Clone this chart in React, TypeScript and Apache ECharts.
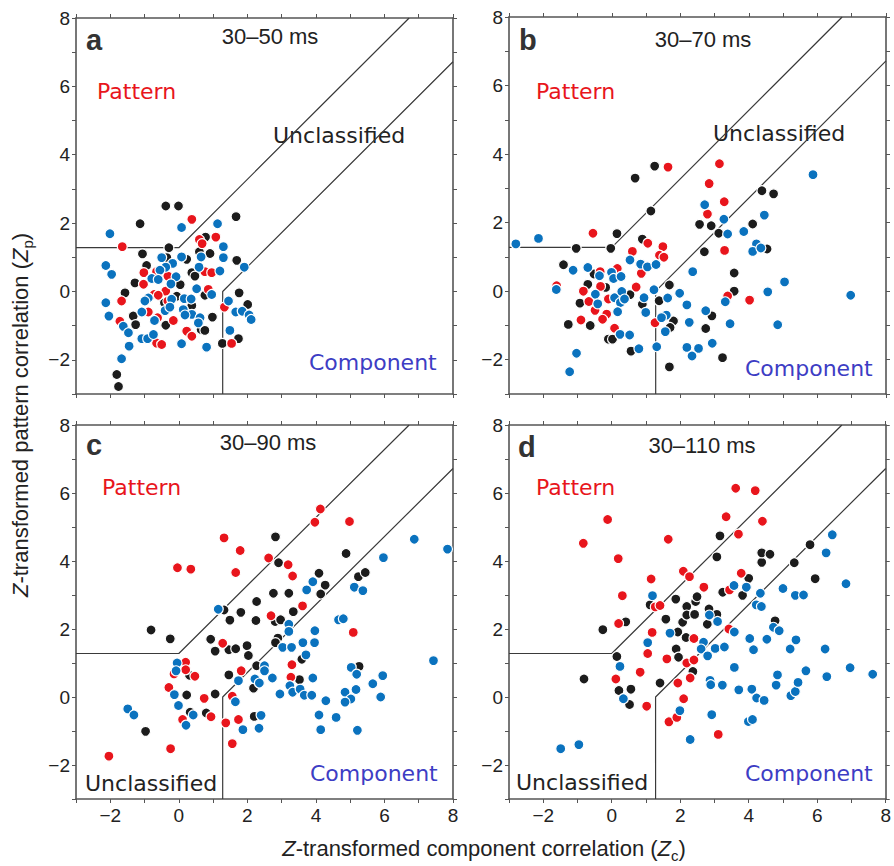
import React, { useEffect, useRef } from 'react';
import * as echarts from 'echarts';

// ---- constants / ticks ----
const Z_CRIT = 1.28;
const AXIS_MIN = -3;
const AXIS_MAX = 8;
const LABELED_TICKS = [-2, 0, 2, 4, 6, 8];

const panelLetters = ['a', 'b', 'c', 'd'];
const panelTitles = ['30–50 ms', '30–70 ms', '30–90 ms', '30–110 ms'];

// ---- panel a (30–50 ms) ----
const aBlack = [
  [-0.38, 2.5], [-0.01, 2.5], [1.67, 2.19], [-1.13, 1.98], [0.78, 1.59], [-0.29, 1.28],
  [-1.06, 1.1], [0.91, 1.11], [0.6, 1.16], [-0.35, 0.99], [0.23, 0.94], [1.69, 0.91],
  [-0.94, 0.76], [0.38, 0.55], [0.47, 0.45], [-1.28, 0.25], [0.04, 0.2], [-1.57, -0.04],
  [1.76, -0.04], [-0.06, -0.14], [0.76, -0.11], [-0.42, -0.33], [0.38, -0.41], [2.01, -0.38],
  [-1.33, -0.72], [0.98, -0.75], [-1.26, -0.97], [-0.38, -0.99], [0.65, -1.11], [0.76, -1.14],
  [1.74, -1.38], [1.27, -1.52], [-1.81, -2.43], [-1.76, -2.78],
];
const aRed = [
  [0.38, 2.11], [1.08, 1.59], [0.6, 1.52], [0.68, 1.4], [-1.65, 1.31], [-1.02, 0.55],
  [-0.65, 0.58], [0.76, 0.58], [0.96, 0.55], [-0.32, 0.45], [-1.03, 0.21], [0.86, 0.06],
  [-0.38, 0.01], [-0.72, -0.09], [-0.6, -0.11], [-0.32, -0.28], [-1.67, -0.28], [1.33, -0.46],
  [-0.89, -0.6], [-0.62, -0.77], [-0.16, -0.85], [-1.72, -0.87], [0.23, -1.16], [0.38, -1.31],
  [-0.65, -1.51], [-0.5, -1.55], [1.54, -1.52],
];
const aBlue = [
  [1.13, 1.98], [0.08, 1.87], [-2.01, 1.69], [1.3, 1.31], [-0.5, 0.99], [0.08, 1.01],
  [0.65, 1.01], [1.3, 0.99], [-2.13, 0.76], [-0.18, 0.82], [-0.38, 0.71], [0.59, 0.71],
  [1.91, 0.71], [-0.55, 0.62], [1.2, 0.6], [-1.96, 0.5], [-0.08, 0.43], [-0.79, 0.38],
  [-0.6, 0.35], [-0.23, 0.22], [0.52, 0.08], [-0.89, -0.19], [-0.21, -0.23], [0.16, -0.21],
  [0.36, -0.22], [0.96, -0.09], [-2.13, -0.33], [-0.99, -0.28], [1.45, -0.28], [-0.4, -0.56],
  [-0.26, -0.46], [0.13, -0.53], [-1.08, -0.6], [0.38, -0.67], [0.18, -0.69], [1.66, -0.6],
  [1.85, -0.58], [-2.04, -0.72], [-0.71, -0.85], [0.62, -0.77], [2.05, -0.69], [2.11, -0.82],
  [-1.62, -1.02], [0.57, -0.92], [-1.47, -1.21], [1.49, -1.14], [-1.08, -1.38], [-0.91, -1.38],
  [-0.74, -1.26], [0.08, -1.53], [0.81, -1.63], [-1.45, -1.6], [-1.67, -1.97],
];

// ---- panel b (30–70 ms) ----
const bBlack = [
  [1.25, 3.65], [0.68, 3.3], [1.14, 2.34], [0.15, 1.68], [0.89, 1.52], [-0.03, 1.25],
  [-1.04, 1.25], [-1.41, 0.77], [-0.52, 0.5], [-0.7, 0.2], [-0.18, 0.11], [-0.93, -0.35],
  [0.53, -0.1], [0.89, -0.38], [-1.27, -0.97], [-0.63, -1.0], [-0.1, -1.4], [0.02, -1.4],
  [0.56, -1.75], [1.38, -0.28], [1.68, 0.18], [1.8, -0.87], [1.68, -2.21], [2.56, 1.95],
  [2.9, 1.91], [3.12, 1.69], [2.7, 1.15], [3.57, 0.53], [3.57, 0.0], [4.11, 1.96],
  [4.38, 2.93], [4.72, 2.84], [4.53, 1.23], [2.92, -0.72], [2.74, -1.09], [3.23, -1.94],
  [1.7, -1.06],
];
const bRed = [
  [1.64, 3.62], [3.14, 3.72], [2.84, 3.14], [3.28, 2.61], [2.79, 2.25], [3.29, 1.19],
  [-0.55, 1.69], [1.05, 1.4], [1.49, 1.3], [0.6, 1.16], [1.39, 1.05], [1.52, 0.99],
  [0.86, 0.52], [-0.34, 0.57], [0.16, 0.66], [0.71, 0.12], [-0.33, 0.14], [-0.83, 0.0],
  [-0.67, -0.3], [-0.1, -0.23], [-0.49, -0.56], [-0.15, -0.67], [-0.9, -0.84], [-0.27, -0.82],
  [0.08, -1.08], [1.26, -0.92], [3.38, -0.14], [4.02, -0.26], [-1.61, 0.16],
];
const bBlue = [
  [-2.8, 1.38], [-2.14, 1.54], [-1.13, 0.61], [-0.7, 0.69], [-0.36, 0.45], [-0.01, 0.55],
  [0.05, 0.37], [0.27, 0.43], [-1.62, 0.05], [-0.48, -0.09], [-0.41, -0.37], [0.08, -0.19],
  [0.29, -0.01], [0.25, -0.33], [0.37, -0.23], [0.17, -0.6], [0.53, 0.91], [0.84, 0.79],
  [1.04, 0.71], [1.29, 0.78], [1.23, 0.04], [0.94, -0.19], [0.99, -0.62], [1.63, -0.2],
  [1.98, -0.06], [2.19, -0.4], [1.59, -0.7], [1.45, -0.77], [1.56, -1.18], [0.24, -1.26],
  [0.52, -1.28], [0.79, -1.68], [1.31, -1.62], [2.19, -1.64], [2.53, -1.67], [2.34, -1.89],
  [2.93, -1.52], [2.26, -0.91], [2.74, -0.57], [3.31, -0.31], [3.45, -0.95], [2.36, 0.57],
  [2.71, 2.52], [3.27, 2.1], [3.38, 1.67], [3.85, 1.74], [4.22, 1.38], [4.11, 1.16],
  [4.35, 1.26], [4.45, 2.22], [4.55, -0.02], [5.04, 0.27], [4.84, -0.98], [5.87, 3.4],
  [6.97, -0.12], [-1.03, -1.81], [-1.23, -2.35],
];

// ---- panel c (30–90 ms) ----
const cBlack = [
  [-0.81, 1.97], [-0.25, 1.71], [-0.97, -1.01], [0.23, 0.06], [0.31, 0.64], [0.33, -0.45],
  [0.8, -0.47], [1.06, 0.09], [1.46, 0.65], [0.93, 1.7], [1.06, 1.35], [1.46, 1.39],
  [1.66, 1.42], [1.99, 1.51], [2.03, 1.22], [1.32, 2.56], [1.49, 2.26], [1.81, 2.49],
  [2.25, 2.25], [2.27, 2.81], [2.76, 3.05], [2.82, 4.71], [2.91, 3.95], [3.21, 3.05],
  [2.81, 2.22], [2.97, 2.27], [2.89, 1.73], [2.82, 1.6], [3.34, 2.51], [3.59, 1.11],
  [3.52, 0.51], [2.27, 0.92], [2.18, 0.26], [2.2, -0.57], [4.09, 3.64], [4.27, 3.29],
  [4.14, 3.03], [4.88, 4.22], [5.24, 3.54], [5.44, 3.66], [5.26, 0.9],
];
const cRed = [
  [-2.04, -1.74], [-0.24, -1.52], [-0.04, 3.8], [0.35, 3.76], [1.32, 4.68], [1.79, 4.31],
  [1.66, 3.66], [2.62, 4.09], [3.19, 3.89], [3.32, 3.56], [3.97, 5.14], [4.13, 5.53],
  [4.98, 5.16], [3.61, 2.68], [2.69, 2.39], [1.28, 1.58], [5.09, 1.9], [1.82, 0.77],
  [3.3, 0.95], [3.27, 0.58], [0.2, 1.02], [0.2, 0.8], [-0.14, 0.68], [0.47, 0.61],
  [-0.29, 0.28], [0.74, -0.04], [0.94, -0.58], [0.11, -0.66], [1.37, -0.76], [1.74, -0.66],
  [1.56, -1.37], [1.56, 0.02],
];
const cBlue = [
  [-1.49, -0.35], [-1.31, -0.53], [-0.05, 1.0], [-0.08, 0.77], [-0.13, 0.07], [-0.01, -0.25],
  [0.42, -0.53], [0.21, -0.83], [1.15, 2.58], [1.65, -0.14], [1.74, 0.48], [1.87, -0.96],
  [2.22, 0.53], [2.35, 0.41], [2.5, 0.92], [2.5, 0.77], [2.4, -0.54], [2.34, -0.92],
  [2.73, 0.56], [2.95, 0.09], [3.03, 1.46], [3.21, 2.14], [3.21, 1.93], [3.29, 1.46],
  [3.24, 0.33], [3.32, 0.14], [3.54, 0.23], [3.62, 1.6], [3.71, 1.24], [3.66, 0.05],
  [3.73, 3.15], [3.91, 3.39], [3.97, 1.95], [3.96, 1.6], [3.91, 0.56], [3.88, 0.05],
  [4.09, -0.53], [4.14, -0.96], [4.29, -0.11], [4.59, -0.6], [4.66, 2.27], [4.8, 2.3],
  [5.03, 0.87], [5.19, 0.67], [5.17, 0.22], [4.85, 0.14], [5.02, -0.06], [4.85, -0.15],
  [5.21, -0.98], [5.12, 3.23], [5.37, 3.13], [5.66, 0.39], [5.97, 4.1], [5.95, 0.63],
  [5.89, 0.0], [6.87, 4.64], [7.43, 1.07], [7.84, 4.35],
];

// ---- panel d (30–110 ms) ----
const dBlack = [
  [-0.81, 0.53], [-0.26, 1.98], [0.15, 1.19], [0.41, 2.21], [0.21, 0.19], [0.56, 0.23],
  [0.52, -0.22], [1.12, 2.71], [1.41, 0.41], [1.58, 2.29], [1.87, 2.88], [1.93, 1.91],
  [1.88, 1.41], [1.95, 1.17], [2.07, 2.2], [2.17, 1.75], [2.19, 2.66], [2.19, 2.41],
  [2.42, 2.43], [2.45, 2.81], [2.49, 2.95], [2.37, 0.75], [2.79, 2.14], [2.84, 2.59],
  [3.07, 2.43], [3.07, 4.12], [3.16, 4.74], [3.24, 3.08], [3.82, 2.99], [4.0, 3.49],
  [4.38, 3.96], [4.38, 4.24], [4.62, 4.2], [4.77, 2.24], [5.33, 3.95], [5.79, 4.48],
  [5.94, 3.48],
];
const dRed = [
  [-0.83, 4.52], [-0.12, 5.22], [0.19, 4.07], [0.31, 2.98], [0.2, 2.16], [0.12, 0.53],
  [0.83, 0.73], [1.02, -0.27], [1.05, 1.28], [1.18, 1.9], [1.15, 3.47], [1.27, 2.65],
  [1.41, 2.69], [1.61, 1.12], [1.65, 4.64], [1.67, -0.73], [1.9, -0.6], [1.93, 0.41],
  [2.1, -0.05], [2.19, 1.0], [2.29, 0.56], [2.4, 1.72], [2.4, 1.09], [2.09, 3.7],
  [2.27, 3.54], [2.69, 3.23], [3.11, -1.1], [3.34, 5.3], [3.62, 6.14], [4.19, 6.07],
  [3.7, 4.79], [4.4, 5.17], [3.78, 3.64], [3.44, 3.15], [3.42, 2.0],
];
const dBlue = [
  [-1.49, -1.52], [-0.96, -1.4], [0.24, 0.9], [0.34, -0.05], [1.19, 2.98], [1.05, 1.6],
  [1.7, 1.88], [1.99, -0.4], [2.29, -1.25], [2.68, 1.61], [2.61, 1.41], [2.8, 1.21],
  [2.85, 2.41], [3.09, 2.22], [3.02, 1.43], [3.29, 1.47], [2.87, 0.49], [2.89, 0.36],
  [2.92, -0.52], [3.23, 0.35], [3.57, 3.28], [3.58, 1.91], [3.58, 0.87], [3.71, 0.21],
  [3.93, 3.23], [4.03, 1.72], [4.14, 1.39], [4.09, 0.23], [4.23, -0.03], [3.99, -0.72],
  [4.11, -0.66], [4.22, 2.71], [4.37, 2.66], [4.34, 3.05], [4.45, -0.1], [4.53, 1.7],
  [4.72, 2.05], [4.89, 1.95], [4.8, 0.35], [4.84, 0.65], [5.0, 3.19], [5.21, 1.41],
  [5.23, 0.04], [5.36, 0.16], [5.44, 0.43], [5.36, 2.99], [5.6, 3.0], [5.38, 1.68],
  [5.67, 0.77], [6.23, 1.41], [6.28, 0.6], [6.26, 4.24], [6.44, 4.77], [6.84, 3.33],
  [6.96, 0.86], [7.62, 0.67],
];

const panelData = [
  { black: aBlack, red: aRed, blue: aBlue },
  { black: bBlack, red: bRed, blue: bBlue },
  { black: cBlack, red: cRed, blue: cBlue },
  { black: dBlack, red: dRed, blue: dBlue },
];

// classification boundaries (derived from the criterion value)
const patternBoundary = [[AXIS_MIN, Z_CRIT], [0, Z_CRIT], [AXIS_MAX - Z_CRIT, AXIS_MAX]];
const componentBoundary = [[Z_CRIT, AXIS_MIN], [Z_CRIT, 0], [AXIS_MAX, AXIS_MAX - Z_CRIT]];

// ---- layout / style ----
const GRIDS = [
  { left: 76, top: 18, width: 377, height: 376 },
  { left: 509, top: 17, width: 377, height: 377 },
  { left: 76, top: 425, width: 377, height: 374 },
  { left: 509, top: 425, width: 377, height: 374 },
];
const COLORS = { black: '#1c1c1c', red: '#e8151c', blue: '#0a72be' };
const AXIS_COLOR = '#555';
const SANS = '"Liberation Sans", Arial, sans-serif';
const WIDE = '"DejaVu Sans", sans-serif';

const fmt = (v: number) =>
  LABELED_TICKS.indexOf(v) >= 0 ? (v < 0 ? '\u2212' + Math.abs(v) : String(v)) : '';

function axis(kind: 'x' | 'y', grid: number, position: string, showLabel: boolean) {
  return {
    type: 'value',
    gridIndex: grid,
    position,
    min: AXIS_MIN,
    max: AXIS_MAX,
    interval: 1,
    axisLine: { show: true, onZero: false, lineStyle: { color: AXIS_COLOR, width: 1.6 } },
    axisTick: { show: true, inside: false, length: 4, lineStyle: { color: AXIS_COLOR, width: 1 } },
    axisLabel: {
      show: showLabel,
      formatter: fmt,
      color: '#222',
      fontSize: 19,
      fontFamily: SANS,
      margin: kind === 'x' ? 7 : 6,
      showMinLabel: true,
      showMaxLabel: true,
    },
    splitLine: { show: false },
  };
}

const textLabels = {
  pattern: [[97, 91], [536, 91], [102, 487], [536, 487]],
  unclassified: [[273, 135], [713, 133], [85, 783], [516, 782]],
  component: [[309, 362], [745, 368], [310, 773], [745, 773]],
  letter: [[86, 40], [519, 40], [86, 445], [518, 447]],
  title: [[270, 36], [703, 39], [268, 442], [702, 445]],
};

export default function App() {
  const ref = useRef<HTMLDivElement>(null);

  useEffect(() => {
    if (!ref.current) return;
    const chart = echarts.init(ref.current, null, { renderer: 'svg' });

    const xAxis: any[] = [];
    const yAxis: any[] = [];
    const series: any[] = [];
    GRIDS.forEach((_, i) => {
      xAxis.push(axis('x', i, 'bottom', i >= 2));
      xAxis.push(axis('x', i, 'top', false));
      yAxis.push(axis('y', i, 'left', true));
      yAxis.push(axis('y', i, 'right', false));
      const xi = i * 2;
      [patternBoundary, componentBoundary].forEach((b) => {
        series.push({
          type: 'line',
          xAxisIndex: xi,
          yAxisIndex: xi,
          data: b,
          symbol: 'none',
          silent: true,
          lineStyle: { color: '#3a3a3a', width: 1.2 },
          z: 1,
        });
      });
      (['black', 'red', 'blue'] as const).forEach((k) => {
        series.push({
          type: 'scatter',
          xAxisIndex: xi,
          yAxisIndex: xi,
          data: (panelData[i] as any)[k],
          symbolSize: 10,
          itemStyle: { color: COLORS[k], borderColor: '#fff', borderWidth: 1.2, opacity: 1 },
          z: 3,
        });
      });
    });

    const graphic: any[] = [];
    for (let i = 0; i < 4; i++) {
      graphic.push({
        type: 'text', x: textLabels.letter[i][0], y: textLabels.letter[i][1],
        style: { text: panelLetters[i], fill: '#333', font: `bold 29px ${SANS}`, textAlign: 'left', textVerticalAlign: 'middle' },
      });
      graphic.push({
        type: 'text', x: textLabels.title[i][0], y: textLabels.title[i][1],
        style: { text: panelTitles[i], fill: '#222', font: `22px ${SANS}`, textAlign: 'center', textVerticalAlign: 'middle' },
      });
      graphic.push({
        type: 'text', x: textLabels.pattern[i][0], y: textLabels.pattern[i][1],
        style: { text: 'Pattern', fill: '#e8151c', font: `22px ${WIDE}`, textAlign: 'left', textVerticalAlign: 'middle' },
      });
      graphic.push({
        type: 'text', x: textLabels.unclassified[i][0], y: textLabels.unclassified[i][1],
        style: { text: 'Unclassified', fill: '#222', font: `22px ${WIDE}`, textAlign: 'left', textVerticalAlign: 'middle' },
      });
      graphic.push({
        type: 'text', x: textLabels.component[i][0], y: textLabels.component[i][1],
        style: { text: 'Component', fill: '#3d3dc4', font: `22px ${WIDE}`, textAlign: 'left', textVerticalAlign: 'middle' },
      });
    }
    const rich = {
      n: { fontSize: 22, fontFamily: SANS, color: '#222', lineHeight: 30, verticalAlign: 'middle' },
      i: { fontSize: 22, fontFamily: SANS, fontStyle: 'italic', color: '#222', lineHeight: 30, verticalAlign: 'middle' },
      s: { fontSize: 15, fontFamily: SANS, color: '#222', lineHeight: 30, verticalAlign: 'bottom' },
    };
    graphic.push({
      type: 'text', x: 484, y: 848,
      style: {
        text: '{i|Z}{n|-transformed component correlation (}{i|Z}{s|c}{n|)}',
        rich, fill: '#222', textAlign: 'center', textVerticalAlign: 'middle',
      },
    });
    graphic.push({
      type: 'text', x: 20, y: 415, rotation: Math.PI / 2,
      style: {
        text: '{i|Z}{n|-transformed pattern correlation (}{i|Z}{s|p}{n|)}',
        rich, fill: '#222', textAlign: 'center', textVerticalAlign: 'middle',
      },
    });

    chart.setOption({
      animation: false,
      backgroundColor: '#fff',
      grid: GRIDS.map((g) => ({ ...g, containLabel: false })),
      xAxis,
      yAxis,
      series,
      graphic,
    });
    return () => chart.dispose();
  }, []);

  return (
    <div
      ref={ref}
      style={{ position: 'absolute', left: 0, top: 0, width: 894, height: 866, background: '#fff' }}
    />
  );
}
